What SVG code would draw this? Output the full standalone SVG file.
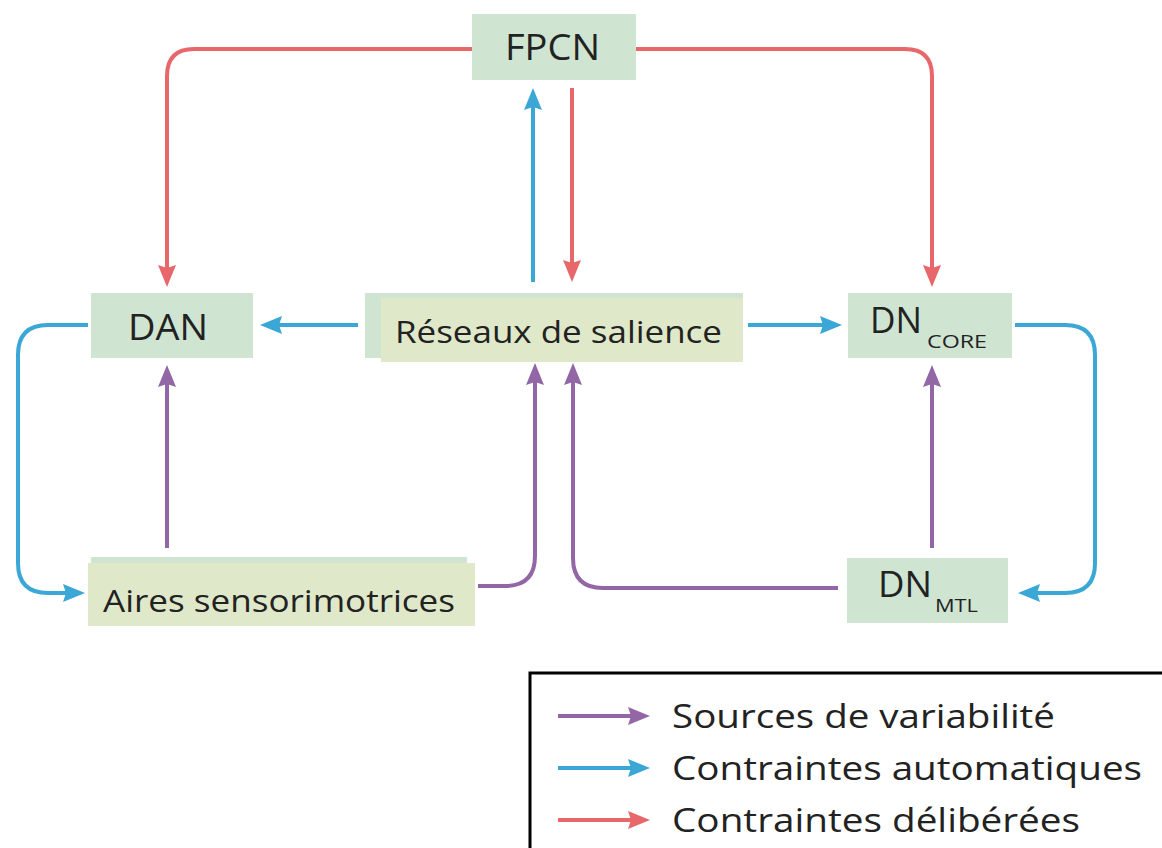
<svg xmlns="http://www.w3.org/2000/svg" width="1162" height="848" viewBox="0 0 1162 848">
<style>
.box{fill:#cfe5d2}
.boxy{fill:#dfe8c9}
.lbl{font-family:"Open Sans","Noto Sans","Liberation Sans",sans-serif;fill:#222}
.c{fill:none;stroke-width:4}
.red{stroke:#e8676a}
.blue{stroke:#3aa7d6}
.purple{stroke:#9366a6}
</style>
<defs>
<marker id="ar" markerUnits="userSpaceOnUse" markerWidth="24" markerHeight="20" refX="12" refY="9" orient="auto"><path d="M0,0 L22,9 L0,18 L3,9 z" fill="#e8676a"/></marker>
<marker id="ab" markerUnits="userSpaceOnUse" markerWidth="24" markerHeight="20" refX="12" refY="9" orient="auto"><path d="M0,0 L22,9 L0,18 L3,9 z" fill="#3aa7d6"/></marker>
<marker id="ap" markerUnits="userSpaceOnUse" markerWidth="24" markerHeight="20" refX="12" refY="9" orient="auto"><path d="M0,0 L22,9 L0,18 L3,9 z" fill="#9366a6"/></marker>
</defs>
<rect width="1162" height="848" fill="#fff"/>
<g id="connectors">
<path class="c red" d="M472,49 H194 Q167,49 167,76 V277" marker-end="url(#ar)"/>
<path class="c red" d="M636,49 H905 Q932,49 932,76 V277" marker-end="url(#ar)"/>
<path class="c red" d="M572,88 V272" marker-end="url(#ar)"/>
<path class="c blue" d="M533,282 V98" marker-end="url(#ab)"/>
<path class="c blue" d="M358,325 H270" marker-end="url(#ab)"/>
<path class="c blue" d="M748,325 H832" marker-end="url(#ab)"/>
<path class="c blue" d="M88,325 H48 Q18,325 18,355 V563 Q18,593 48,593 H75" marker-end="url(#ab)"/>
<path class="c blue" d="M1015,325 H1065 Q1095,325 1095,355 V563 Q1095,593 1065,593 H1028" marker-end="url(#ab)"/>
<path class="c purple" d="M167,548 V375" marker-end="url(#ap)"/>
<path class="c purple" d="M478,586 H505 Q535,586 535,556 V373" marker-end="url(#ap)"/>
<path class="c purple" d="M838,588 H603 Q573,588 573,558 V373" marker-end="url(#ap)"/>
<path class="c purple" d="M932,548 V375" marker-end="url(#ap)"/>
</g>
<g id="fpcn">
<rect class="box" x="472" y="14" width="164" height="66"/>
<text class="lbl" x="505" y="60" font-size="36" textLength="95" lengthAdjust="spacingAndGlyphs">FPCN</text>
</g>
<g id="dan">
<rect class="box" x="91" y="293" width="162" height="65"/>
<text class="lbl" x="128" y="340" font-size="36" textLength="80" lengthAdjust="spacingAndGlyphs">DAN</text>
</g>
<g id="salience">
<rect class="box" x="365" y="293" width="378" height="65"/>
<rect class="boxy" x="381" y="298" width="362" height="64"/>
<text class="lbl" x="395" y="343" font-size="31" textLength="327" lengthAdjust="spacingAndGlyphs">Réseaux de salience</text>
</g>
<g id="dncore">
<rect class="box" x="848" y="293" width="164" height="65"/>
<text class="lbl" x="870" y="333" font-size="36" textLength="52" lengthAdjust="spacingAndGlyphs">DN</text>
<text class="lbl" x="927" y="348" font-size="18" textLength="60" lengthAdjust="spacingAndGlyphs">CORE</text>
</g>
<g id="aires">
<rect class="box" x="91" y="557" width="376" height="66"/>
<rect class="boxy" x="88" y="563" width="387" height="63"/>
<text class="lbl" x="103" y="612" font-size="31" textLength="352" lengthAdjust="spacingAndGlyphs">Aires sensorimotrices</text>
</g>
<g id="dnmtl">
<rect class="box" x="847" y="558" width="161" height="65"/>
<text class="lbl" x="878" y="597" font-size="36" textLength="54" lengthAdjust="spacingAndGlyphs">DN</text>
<text class="lbl" x="935" y="612" font-size="18" textLength="43" lengthAdjust="spacingAndGlyphs">MTL</text>
</g>
<g id="legend">
<rect x="530" y="673" width="640" height="200" fill="#fff" stroke="#000" stroke-width="3"/>
<path class="c purple" d="M558,716 H640" marker-end="url(#ap)"/>
<path class="c blue" d="M558,768 H640" marker-end="url(#ab)"/>
<path class="c red" d="M558,820 H640" marker-end="url(#ar)"/>
<text class="lbl" x="672" y="728" font-size="33" textLength="383" lengthAdjust="spacingAndGlyphs">Sources de variabilité</text>
<text class="lbl" x="672" y="780" font-size="33" textLength="470" lengthAdjust="spacingAndGlyphs">Contraintes automatiques</text>
<text class="lbl" x="672" y="832" font-size="33" textLength="408" lengthAdjust="spacingAndGlyphs">Contraintes délibérées</text>
</g>
</svg>
